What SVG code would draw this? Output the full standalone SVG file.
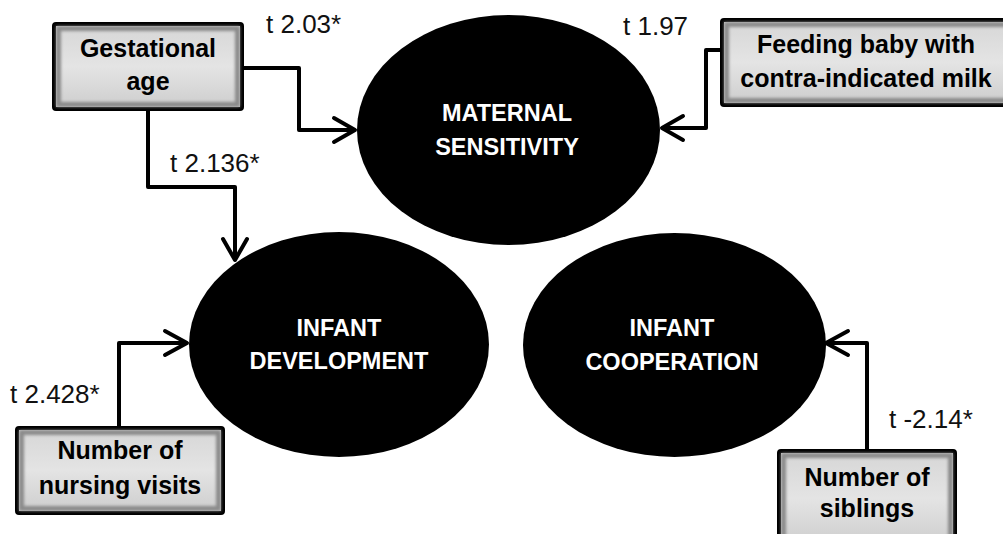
<svg xmlns="http://www.w3.org/2000/svg" width="1003" height="534" viewBox="0 0 1003 534">
<style>
.box{fill:url(#boxg);stroke:#000;stroke-width:4}
.inner{fill:none;stroke:#8a8a8a;stroke-width:5;filter:url(#blur)}
.bt{font-family:"Liberation Sans",Arial,sans-serif;font-weight:bold;font-size:25px;fill:#000;text-anchor:middle}
.et{font-family:"Liberation Sans",Arial,sans-serif;font-weight:bold;font-size:23.5px;fill:#fff;text-anchor:middle}
.lab{font-family:"Liberation Sans",Arial,sans-serif;font-size:26px;fill:#111}
.ell{fill:#000}
.con{fill:none;stroke:#000;stroke-width:4;stroke-linejoin:round}
.ah{fill:none;stroke:#000;stroke-width:4;stroke-linecap:round;stroke-linejoin:round}
</style>
<defs>
<linearGradient id="boxg" x1="0" y1="0" x2="0" y2="1">
<stop offset="0" stop-color="#d6d6d6"/>
<stop offset="0.5" stop-color="#e4e4e4"/>
<stop offset="1" stop-color="#cdcdcd"/>
</linearGradient>
<filter id="blur" x="-10%" y="-10%" width="120%" height="120%"><feGaussianBlur stdDeviation="1.8"/></filter>
</defs>

<g id="connectors">
<path class="con" d="M242,68 H299 V130 H354"/>
<path class="ah" d="M334,118 L355,130 L334,142"/>
<path class="con" d="M148,109 V187 H235 V258"/>
<path class="ah" d="M223,239 L235,260 L247,239"/>
<path class="con" d="M722,50 H706 V128 H664"/>
<path class="ah" d="M683,116 L662,128 L683,140"/>
<path class="con" d="M119,428 V343 H186"/>
<path class="ah" d="M165,331 L187,343 L165,355"/>
<path class="con" d="M867,451 V343 H828"/>
<path class="ah" d="M848,331 L826,343 L848,355"/>
</g>

<g id="labels">
<text class="lab" x="266" y="33">t 2.03*</text>
<text class="lab" x="170" y="172">t 2.136*</text>
<text class="lab" x="623" y="35">t 1.97</text>
<text class="lab" x="10" y="403">t 2.428*</text>
<text class="lab" x="889" y="428">t -2.14*</text>
</g>

<g id="maternal-sensitivity">
<ellipse class="ell" cx="508.5" cy="130" rx="151.5" ry="115"/>
<text class="et" x="507" y="121">MATERNAL</text>
<text class="et" x="507" y="155">SENSITIVITY</text>
</g>

<g id="infant-development">
<ellipse class="ell" cx="339" cy="344.5" rx="150" ry="112.5"/>
<text class="et" x="339" y="336">INFANT</text>
<text class="et" x="339" y="369">DEVELOPMENT</text>
</g>

<g id="infant-cooperation">
<ellipse class="ell" cx="674.5" cy="345" rx="151.5" ry="112"/>
<text class="et" x="672" y="336">INFANT</text>
<text class="et" x="672" y="370">COOPERATION</text>
</g>

<g id="gestational-age">
<rect class="box" x="54" y="24" width="188" height="85" rx="2"/>
<rect class="inner" x="58.5" y="28.5" width="179" height="76"/>
<text class="bt" x="148" y="57">Gestational</text>
<text class="bt" x="148" y="90">age</text>
</g>

<g id="feeding-milk">
<rect class="box" x="722" y="20" width="290" height="85" rx="2"/>
<rect class="inner" x="726.5" y="24.5" width="290" height="76"/>
<text class="bt" x="866" y="53">Feeding baby with</text>
<text class="bt" x="866" y="87">contra-indicated milk</text>
</g>

<g id="nursing-visits">
<rect class="box" x="17" y="428" width="206" height="85" rx="2"/>
<rect class="inner" x="21.5" y="432.5" width="197" height="76"/>
<text class="bt" x="120" y="459">Number of</text>
<text class="bt" x="120" y="494">nursing visits</text>
</g>

<g id="siblings">
<rect class="box" x="779" y="451" width="176" height="95" rx="2"/>
<rect class="inner" x="783.5" y="455.5" width="167" height="86"/>
<text class="bt" x="867" y="486">Number of</text>
<text class="bt" x="867" y="517">siblings</text>
</g>
</svg>
